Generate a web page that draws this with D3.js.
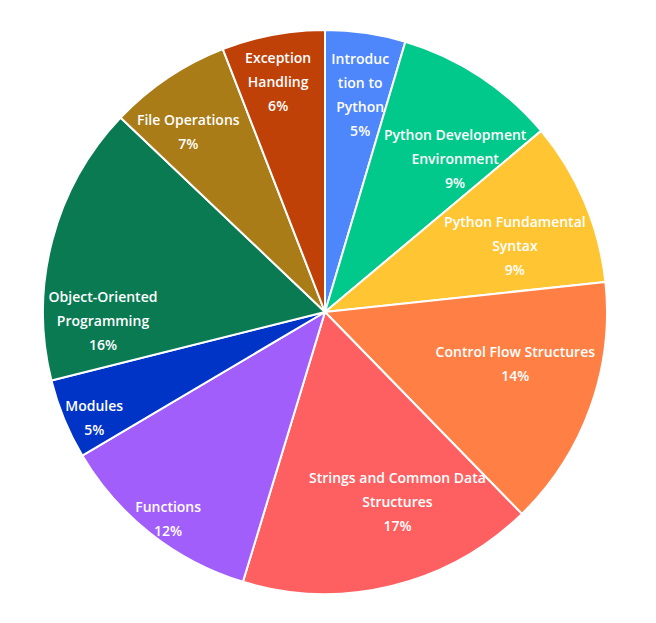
<!DOCTYPE html>
<html>
<head>
<meta charset="utf-8">
<script src="https://cdn.jsdelivr.net/npm/d3@7"></script>
<style>
  html, body { margin: 0; padding: 0; background: #fff; }
  #chart { width: 656px; height: 623px; }
  .slice-label { font-family: 'Open Sans', 'Noto Sans', sans-serif; font-weight: 600; font-size: 14px; fill: #fff; }
</style>
</head>
<body>
<div id="chart"></div>
<script>
// topics, clockwise from 12 o'clock
const topics = [
  "Introduction to Python",
  "Python Development Environment",
  "Python Fundamental Syntax",
  "Control Flow Structures",
  "Strings and Common Data Structures",
  "Functions",
  "Modules",
  "Object-Oriented Programming",
  "File Operations",
  "Exception Handling"
];
// share of the course, percent
const shares = [4.6, 9.3, 9.4, 14.4, 17.0, 11.8, 4.6, 16.0, 7.0, 5.9];
// label text as it wraps in the picture
const labelLines = [
  ["Introduc", "tion to", "Python"],
  ["Python Development", "Environment"],
  ["Python Fundamental", "Syntax"],
  ["Control Flow Structures"],
  ["Strings and Common Data", "Structures"],
  ["Functions"],
  ["Modules"],
  ["Object-Oriented", "Programming"],
  ["File Operations"],
  ["Exception", "Handling"]
];
const colors = ["#4e86fc", "#00c98b", "#ffc533", "#ff7f45", "#fe6062",
                "#a25efb", "#0034c6", "#097a52", "#a97c17", "#c04108"];

// label anchor: [fraction of radius, angle in degrees]
const labelPolar = [
  [0.78, 9.2], [0.712, 40.4], [0.713, 70.8], [0.70, 105.4], [0.72, 159.1],
  [0.92, 217.2], [0.90, 245.4], [0.788, 267.7], [0.80, 322.7], [0.833, 348.5]
];

const width = 656, height = 623;
const cx = 325, cy = 312, radius = 282;
const lineH = 24;

const svg = d3.select("#chart").append("svg")
  .attr("width", width)
  .attr("height", height);

const g = svg.append("g").attr("transform", `translate(${cx},${cy})`);

const data = topics.map((t, i) => ({ name: t, value: shares[i], i: i }));

const pie = d3.pie().value(d => d.value).sort(null);
const arc = d3.arc().innerRadius(0).outerRadius(radius);
const total = d3.sum(shares);

const arcs = pie(data);

g.selectAll("path.slice")
  .data(arcs)
  .enter().append("path")
  .attr("class", "slice")
  .attr("d", arc)
  .attr("fill", d => colors[d.data.i])
  .attr("stroke", "#fff")
  .attr("stroke-width", 2)
  .attr("stroke-linejoin", "round");

const label = g.selectAll("text.slice-label")
  .data(arcs)
  .enter().append("text")
  .attr("class", "slice-label")
  .attr("text-anchor", "middle")
  .attr("transform", d => {
    const p = labelPolar[d.data.i];
    const a = p[1] * Math.PI / 180;
    const r = p[0] * radius;
    return `translate(${r * Math.sin(a)},${-r * Math.cos(a)})`;
  });

label.each(function(d) {
  const lines = labelLines[d.data.i].concat([Math.round(d.data.value / total * 100) + "%"]);
  const n = lines.length;
  d3.select(this).selectAll("tspan")
    .data(lines)
    .enter().append("tspan")
    .attr("x", 0)
    .attr("y", (l, k) => (k - (n - 1) / 2) * lineH)
    .attr("dy", "0.35em")
    .text(l => l);
});
</script>
</body>
</html>
